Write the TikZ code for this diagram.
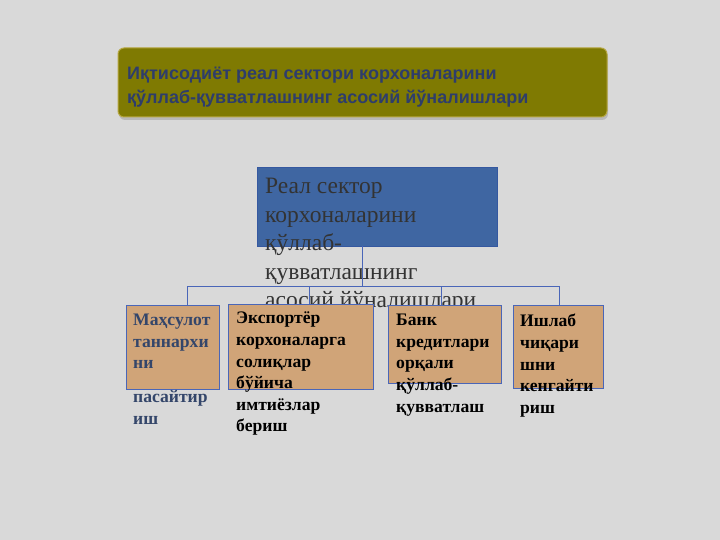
\documentclass[tikz,border=0pt]{standalone}
\usepackage{fontspec}
\setmainfont{Liberation Serif}
\newfontfamily\headfont{Liberation Sans}
\usetikzlibrary{shadows}
\definecolor{bgc}{HTML}{D9D9D9}
\definecolor{olivebox}{HTML}{7F7A02}
\definecolor{olivebrd}{HTML}{B5A640}
\definecolor{headtxt}{HTML}{2E3D6B}
\definecolor{rootfill}{HTML}{3F66A2}
\definecolor{rootbrd}{HTML}{3558A0}
\definecolor{roottxt}{HTML}{333333}
\definecolor{tanfill}{HTML}{D0A478}
\definecolor{linkc}{HTML}{4A66B8}
\definecolor{firsttxt}{HTML}{34466A}
\tikzset{
  headbox/.style={draw=olivebrd, line width=1pt, fill=olivebox, rounded corners=6pt,
    drop shadow={opacity=0.35, shadow xshift=1pt, shadow yshift=-3pt}},
  rootbox/.style={draw=rootbrd, line width=0.6pt, fill=rootfill},
  tanbox/.style={draw=linkc, line width=0.7pt, fill=tanfill},
  boxtext/.style={anchor=north west, inner sep=0pt, align=left,
    font=\fontsize{17.6}{21.6}\selectfont\bfseries},
  link/.style={draw=linkc, line width=0.6pt}
}
\begin{document}
\begin{tikzpicture}[x=1pt,y=-1pt]
\fill[bgc] (0,0) rectangle (720,540);
\useasboundingbox (0,0) rectangle (720,540);
% title
\draw[headbox] (118,48) rectangle (607,117);
\node[anchor=north west, inner sep=0pt, align=left, text=headtxt,
  font=\headfont\fontsize{18}{24}\selectfont\bfseries] (title) at (127,67)
  {Иқтисодиёт реал сектори корхоналарини\\қўллаб-қувватлашнинг асосий йўналишлари};
% root
\draw[rootbox] (257,167) rectangle (497,246);
\coordinate (rootbot) at (362,246);
\node[anchor=north west, inner sep=0pt, align=left, text=roottxt,
  font=\fontsize{23.5}{28.6}\selectfont] (roottext) at (265,178)
  {Реал сектор\\корхоналарини\\қўллаб-\\қувватлашнинг\\асосий йўналишлари};
% children
\draw[tanbox] (126,305) rectangle (219,389);
\draw[tanbox] (228,304) rectangle (373,389);
\draw[tanbox] (388,305) rectangle (501,383);
\draw[tanbox] (513,305) rectangle (603,388);
\node[boxtext, text=firsttxt] (c1) at (133,314)
  {Маҳсулот\\таннархи\\ни\\[12pt]пасайтир\\иш};
\node[boxtext] (c2) at (236,312)
  {Экспортёр\\корхоналарга\\солиқлар\\бўйича\\имтиёзлар\\бериш};
\node[boxtext] (c3) at (396,314)
  {Банк\\кредитлари\\орқали\\қўллаб-\\қувватлаш};
\node[boxtext] (c4) at (520,314)
  {Ишлаб\\чиқари\\шни\\кенгайти\\риш};
% connectors
\coordinate (hub) at (362,286);
\coordinate (h1) at (187,286);
\coordinate (h2) at (309,286);
\coordinate (h3) at (441,286);
\coordinate (h4) at (559,286);
\coordinate (t1) at (187,305);
\coordinate (t2) at (309,304);
\coordinate (t3) at (441,305);
\coordinate (t4) at (559,305);
\draw[link] (rootbot) -- (hub);
\draw[link] (h1) -- (h4);
\draw[link] (h1) -- (t1);
\draw[link] (h2) -- (t2);
\draw[link] (h3) -- (t3);
\draw[link] (h4) -- (t4);
\end{tikzpicture}
\end{document}
